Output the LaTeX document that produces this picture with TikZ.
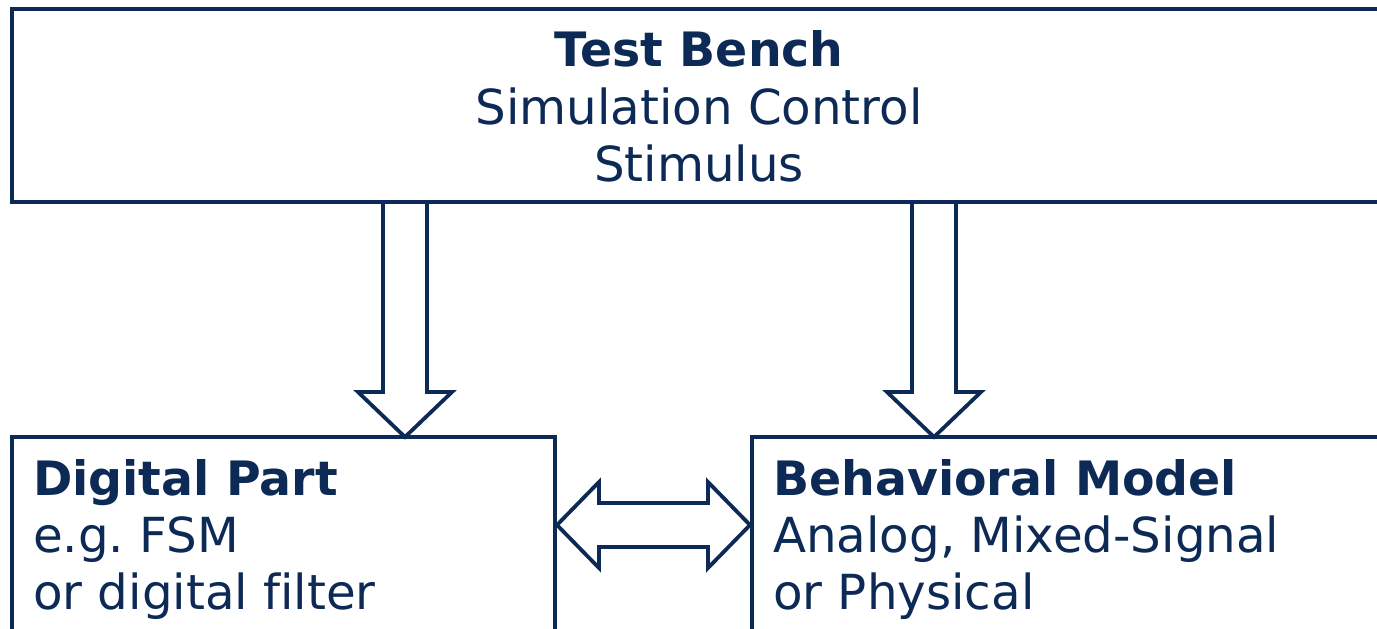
\documentclass[tikz,border=0pt]{standalone}
\usepackage{fontspec}
\setmainfont[Ligatures={NoCommon}]{DejaVu Sans}
\usetikzlibrary{calc}
\definecolor{navy}{HTML}{0C2A55}
\frenchspacing
\begin{document}
\begin{tikzpicture}[x=1pt,y=-1pt,
  box/.style={draw=navy,line width=3.8pt,inner sep=0pt,outer sep=0pt,rectangle},
  lbl/.style={text=navy,inner sep=0pt,font=\fontsize{48.3}{58}\selectfont},
  bld/.style={lbl,font=\fontsize{47.4}{58}\selectfont\bfseries},
  blk/.style={draw=navy,line width=3.8pt,line join=miter}]
\useasboundingbox (0,0) rectangle (1377,629);
\clip (0,0) rectangle (1377,629);
\node[box,minimum width=1388pt,minimum height=193pt] (tb) at (706,105.5) {};
\node[box,minimum width=543pt,minimum height=263pt] (dp) at (283.5,568.5) {};
\node[box,minimum width=648pt,minimum height=263pt] (bm) at (1076,568.5) {};
\node[bld,anchor=base] (t1) at (699,66) {Test Bench};
\node[lbl,anchor=base] (t2) at (699,124) {Simulation Control};
\node[lbl,anchor=base] (t3) at (699,181) {Stimulus};
\node[bld,anchor=base west] (d1) at (33,495) {Digital Part};
\node[lbl,anchor=base west] (d2) at (33,552) {e.g. FSM};
\node[lbl,anchor=base west] (d3) at (33,609) {or digital filter};
\node[bld,anchor=base west] (b1) at (773,495) {Behavioral Model};
\node[lbl,anchor=base west] (b2) at (773,552) {Analog, Mixed-Signal};
\node[lbl,anchor=base west] (b3) at (773,609) {or Physical};
\coordinate (c1) at (405,0);
\coordinate (c2) at (934,0);
\coordinate (m) at (0,525);
\path (tb.south -| c1) coordinate (s1) (dp.north -| c1) coordinate (e1)
      (tb.south -| c2) coordinate (s2) (bm.north -| c2) coordinate (e2)
      (dp.east |- m) coordinate (L) (bm.west |- m) coordinate (R);
\draw[blk] ($(s1)+(-22,0)$) -- ($(e1)+(-22,-45)$) -- ($(e1)+(-47,-45)$) -- (e1)
  -- ($(e1)+(47,-45)$) -- ($(e1)+(22,-45)$) -- ($(s1)+(22,0)$);
\draw[blk] ($(s2)+(-22,0)$) -- ($(e2)+(-22,-45)$) -- ($(e2)+(-47,-45)$) -- (e2)
  -- ($(e2)+(47,-45)$) -- ($(e2)+(22,-45)$) -- ($(s2)+(22,0)$);
\draw[blk] ($(L)+(2,0)$) -- ($(L)+(44,-43)$) -- ($(L)+(44,-22)$) -- ($(R)+(-44,-22)$)
  -- ($(R)+(-44,-43)$) -- ($(R)+(-2,0)$) -- ($(R)+(-44,43)$) -- ($(R)+(-44,22)$)
  -- ($(L)+(44,22)$) -- ($(L)+(44,43)$) -- cycle;
\end{tikzpicture}
\end{document}
